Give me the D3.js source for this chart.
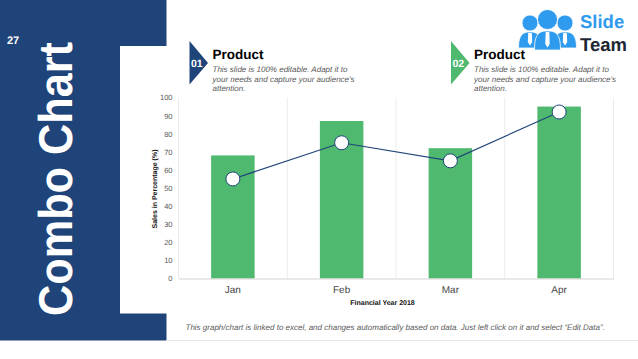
<!DOCTYPE html>
<html>
<head>
<meta charset="utf-8">
<script src="https://cdn.jsdelivr.net/npm/d3@7"></script>
<style>
  html, body { margin: 0; padding: 0; background: #fff; }
  svg { display: block; }
  text { font-family: "Liberation Sans", Arial, sans-serif; text-rendering: geometricPrecision; }
</style>
</head>
<body>
<div id="chart"></div>
<script>
const months = ["Jan", "Feb", "Mar", "Apr"];
const barValues = [68, 87, 72, 95];
const lineValues = [55, 75, 65, 92];
const yTicks = [0, 10, 20, 30, 40, 50, 60, 70, 80, 90, 100];
const descLines = [
    "This slide is 100% editable. Adapt it to",
    "your needs and capture your audience's",
    "attention."
];

const blue = "#1f4479";
const green = "#4fb96f";
const logoBlue = "#2f9bee";

const svg = d3.select("#chart").append("svg")
    .attr("width", 638)
    .attr("height", 359);

// side panel
svg.append("path")
    .attr("fill", blue)
    .attr("d", "M0,0H166.5V46H120V313.5H166.5V340.5H0Z");
svg.append("line")
    .attr("x1", 166).attr("x2", 638)
    .attr("y1", 340.5).attr("y2", 340.5)
    .attr("stroke", "#e4e4e4");

svg.append("text")
    .attr("x", 7).attr("y", 43.5)
    .attr("fill", "#fff")
    .attr("font-size", 11)
    .attr("font-weight", "bold")
    .text("27");

svg.append("text")
    .attr("transform", "translate(72,316) rotate(-90)")
    .attr("fill", "#fff")
    .attr("font-size", 47.5)
    .attr("font-weight", "bold")
    .attr("textLength", 274)
    .attr("lengthAdjust", "spacingAndGlyphs")
    .text("Combo Chart");

// product headers
function header(x, color, num) {
    svg.append("path")
        .attr("fill", color)
        .attr("d", `M${x},41L${x + 18.5},63L${x},84.5Z`);
    svg.append("text")
        .attr("x", x + 1.5).attr("y", 67)
        .attr("fill", "#fff")
        .attr("font-size", 10.5)
        .attr("font-weight", "bold")
        .text(num);
    svg.append("text")
        .attr("x", x + 23).attr("y", 58.5)
        .attr("fill", "#000")
        .attr("font-size", 13.5)
        .attr("font-weight", "bold")
        .text("Product");
    descLines.forEach((d, i) => {
        svg.append("text")
            .attr("x", x + 23).attr("y", 72 + i * 9.7)
            .attr("fill", "#5a5a5a")
            .attr("font-size", 8)
            .attr("font-style", "italic")
            .text(d);
    });
}
header(189.5, blue, "01");
header(451, green, "02");

// logo
const logo = svg.append("g").attr("fill", logoBlue);
function person(cx, cy, r, w, top, bottom) {
    logo.append("circle").attr("cx", cx).attr("cy", cy).attr("r", r)
        .attr("stroke", "#fff").attr("stroke-width", 0.8);
    logo.append("path")
        .attr("stroke", "#fff").attr("stroke-width", 0.8)
        .attr("d", `M${cx - w},${bottom}C${cx - w},${top + 2} ${cx - w + 5},${top} ${cx},${top}C${cx + w - 5},${top} ${cx + w},${top + 2} ${cx + w},${bottom}Z`);
    logo.append("path")
        .attr("fill", "#fff")
        .attr("d", `M${cx - 1.8},${top + 1}H${cx + 1.8}L${cx + 2.2},${bottom - 6}L${cx},${bottom - 2.5}L${cx - 2.2},${bottom - 6}Z`);
}
person(530, 23, 8, 11.5, 32, 48);
person(565, 23, 8, 11.5, 32, 48);
person(547.5, 19.5, 10, 13, 31, 50);
svg.append("text")
    .attr("x", 580).attr("y", 27.5)
    .attr("fill", logoBlue)
    .attr("font-size", 18.5)
    .attr("font-weight", "bold")
    .text("Slide");
svg.append("text")
    .attr("x", 580).attr("y", 50.5)
    .attr("fill", "#1c2733")
    .attr("font-size", 18.5)
    .attr("font-weight", "bold")
    .text("Team");

// chart
const x = d3.scaleBand()
    .domain(months)
    .range([178.5, 613.5]);
const y = d3.scaleLinear()
    .domain([0, 100])
    .range([278.5, 97.5]);

svg.append("g")
    .selectAll("line")
    .data(months)
    .enter().append("line")
    .attr("x1", d => x(d) + x.bandwidth())
    .attr("x2", d => x(d) + x.bandwidth())
    .attr("y1", y(100))
    .attr("y2", y(0))
    .attr("stroke", "#ececec");
svg.append("line")
    .attr("x1", x.range()[0]).attr("x2", x.range()[0])
    .attr("y1", y(100)).attr("y2", y(0))
    .attr("stroke", "#ececec");

svg.selectAll(".bar")
    .data(barValues)
    .enter().append("rect")
    .attr("class", "bar")
    .attr("x", (d, i) => x(months[i]) + x.bandwidth() * 0.3)
    .attr("width", x.bandwidth() * 0.4)
    .attr("y", d => y(d))
    .attr("height", d => y(0) - y(d))
    .attr("fill", green);

const xAxis = svg.append("g")
    .attr("transform", `translate(0,${y(0)})`)
    .call(d3.axisBottom(x).tickSize(0).tickPadding(7));
xAxis.select(".domain").attr("stroke", "#d4d4d4");
xAxis.selectAll("text")
    .attr("fill", "#444")
    .attr("font-size", 10)
    .style("font-family", '"Liberation Sans", Arial, sans-serif');

const yAxis = svg.append("g")
    .attr("transform", `translate(${x.range()[0]},0)`)
    .call(d3.axisLeft(y).tickValues(yTicks).tickSize(0).tickPadding(6));
yAxis.select(".domain").remove();
yAxis.selectAll("text")
    .attr("fill", "#555")
    .attr("font-size", 7.5)
    .style("font-family", '"Liberation Sans", Arial, sans-serif');

const line = d3.line()
    .x((d, i) => x(months[i]) + x.bandwidth() / 2)
    .y(d => y(d));

svg.append("path")
    .attr("d", line(lineValues))
    .attr("fill", "none")
    .attr("stroke", blue)
    .attr("stroke-width", 1.2);

svg.selectAll(".dot")
    .data(lineValues)
    .enter().append("circle")
    .attr("class", "dot")
    .attr("cx", (d, i) => x(months[i]) + x.bandwidth() / 2)
    .attr("cy", d => y(d))
    .attr("r", 7)
    .attr("fill", "#fff")
    .attr("stroke", blue)
    .attr("stroke-width", 1);

svg.append("text")
    .attr("x", 382.5).attr("y", 305)
    .attr("text-anchor", "middle")
    .attr("fill", "#111")
    .attr("font-size", 7)
    .attr("font-weight", "bold")
    .text("Financial Year 2018");

svg.append("text")
    .attr("transform", "translate(157,189) rotate(-90)")
    .attr("text-anchor", "middle")
    .attr("fill", "#111")
    .attr("font-size", 7)
    .attr("font-weight", "bold")
    .text("Sales in Percentage (%)");

svg.append("text")
    .attr("x", 185.5).attr("y", 329.5)
    .attr("fill", "#5a5a5a")
    .attr("font-size", 8)
    .attr("font-style", "italic")
    .text("This graph/chart is linked to excel, and changes automatically based on data. Just left click on it and select “Edit Data”.");
</script>
</body>
</html>
